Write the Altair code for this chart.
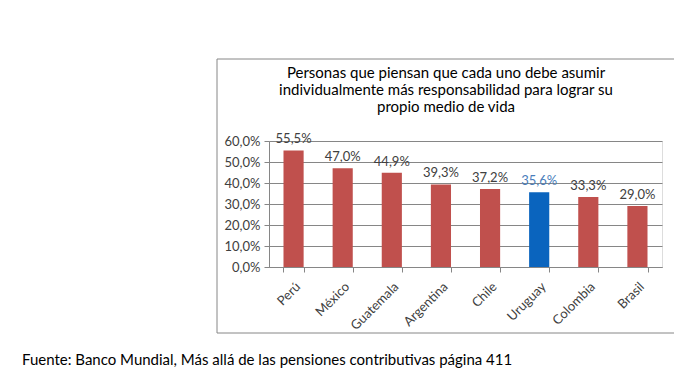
import altair as alt
import pandas as pd

countries = ["Perú", "México", "Guatemala", "Argentina", "Chile", "Uruguay", "Colombia", "Brasil"]
values = [0.555, 0.470, 0.449, 0.393, 0.372, 0.356, 0.333, 0.290]
highlight = ["no", "no", "no", "no", "no", "si", "no", "no"]
y_ticks = [0, 0.1, 0.2, 0.3, 0.4, 0.5, 0.6]
title_lines = ["Personas que piensan que cada uno debe asumir",
               "individualmente más responsabilidad para lograr su",
               "propio medio de vida"]
source_text = "Fuente: Banco Mundial, Más allá de las pensiones  contributivas página 411"

df = pd.DataFrame({"pais": countries, "valor": values, "hl": highlight})
df["etiqueta"] = [f"{v*100:.1f}%".replace(".", ",") for v in values]

FONT = "Lato"
W, H = 393, 126

base = alt.Chart(df)

x_enc = alt.X("pais:N", sort=countries, title=None,
              scale=alt.Scale(paddingInner=0.59, paddingOuter=0.295),
              axis=alt.Axis(labelAngle=-45, labelAlign="right", labelBaseline="top",
                            labelFontSize=13, labelColor="#404040", labelFont=FONT,
                            tickBand="extent", tickSize=5, tickColor="#868686",
                            domainColor="#868686", labelPadding=8, labelOverlap=False))
y_enc = alt.Y("valor:Q", title=None,
              scale=alt.Scale(domain=[0, 0.6], nice=False),
              axis=alt.Axis(values=y_ticks, tickCount=7,
                            labelExpr="replace(format(datum.value, '.1%'), '.', ',')",
                            labelFontSize=13, labelColor="#404040", labelFont=FONT,
                            labelOverlap=False, labelSeparation=0,
                            gridColor="#868686", gridWidth=1, tickSize=5,
                            tickColor="#868686", domainColor="#868686", labelPadding=4))

bars = base.mark_bar().encode(
    x=x_enc, y=y_enc,
    color=alt.condition(alt.datum.hl == "si", alt.value("#0A64BE"), alt.value("#C0504D")),
)

labels = base.mark_text(dy=-4, baseline="bottom", fontSize=13, font=FONT).encode(
    x=x_enc,
    y=y_enc,
    text="etiqueta:N",
    color=alt.condition(alt.datum.hl == "si", alt.value("#4A7EBB"), alt.value("#404040")),
)

frame = alt.Chart(pd.DataFrame({"k": [0]})).mark_rect(fill=None, stroke="#868686", strokeWidth=1).encode(
    x=alt.value(-52), x2=alt.value(406), y=alt.value(-82), y2=alt.value(192))

title = alt.Chart(pd.DataFrame({"t": ["\n".join(title_lines)]})).mark_text(
    fontSize=15, font=FONT, fontWeight="normal", color="#000000", align="center",
    baseline="middle", lineBreak="\n", lineHeight=17).encode(
    x=alt.value(177),
    y=alt.value(-68),
    text="t:N",
)

src = alt.Chart(pd.DataFrame({"s": [source_text]})).mark_text(
    fontSize=15, font=FONT, color="#000000", align="left", baseline="alphabetic").encode(
    x=alt.value(-247), y=alt.value(224), text="s:N")

chart = alt.layer(frame, bars, labels, title, src).properties(
    width=W, height=H,
    autosize=alt.AutoSizeParams(type="none"),
    padding={"left": 261, "top": 133, "right": 12, "bottom": 110},
).configure_view(stroke=None).configure(background="white")

chart.save("out.html", embed_options={"renderer": "svg", "actions": False})
